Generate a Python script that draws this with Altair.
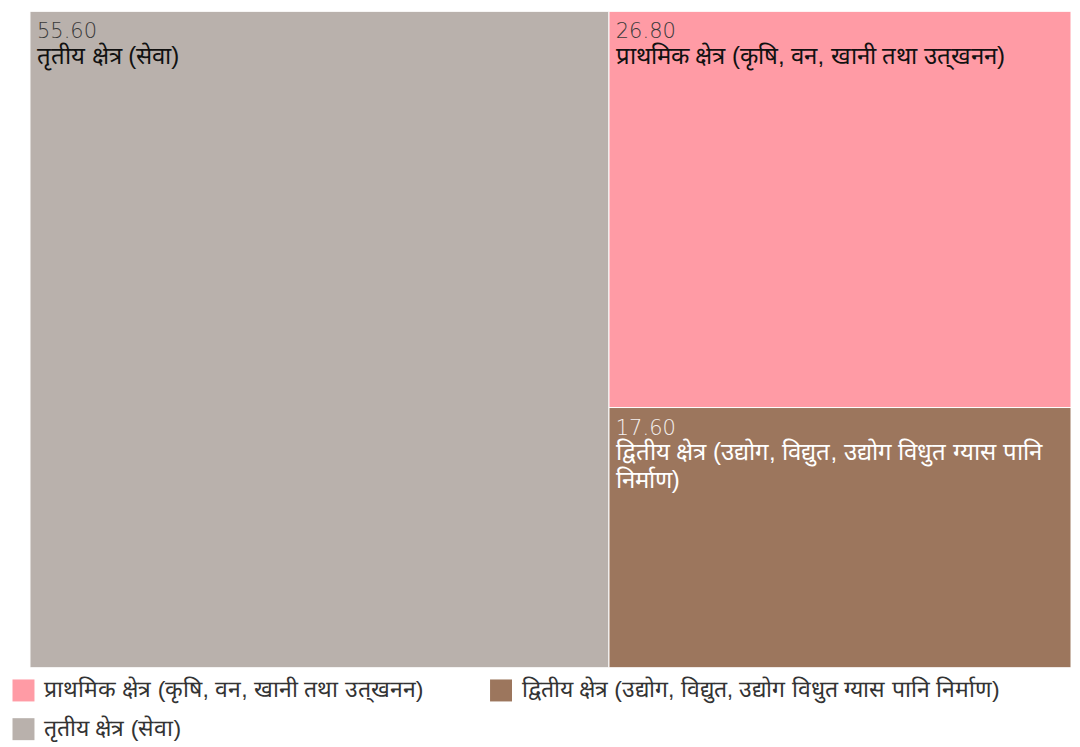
import textwrap
import altair as alt
import pandas as pd

# ---- data ----
categories = [
    "प्राथमिक क्षेत्र (कृषि, वन, खानी तथा उत्‌खनन)",
    "द्वितीय क्षेत्र (उद्योग, विद्युत, उद्योग विधुत ग्यास पानि निर्माण)",
    "तृतीय क्षेत्र (सेवा)",
]
values = [26.8, 17.6, 55.6]
colors = ["#ff9ba5", "#9c765d", "#b9b1ac"]

# ---- simple slice treemap layout (largest item takes a full-height column) ----
df = pd.DataFrame({"category": categories, "value": values})
total = df["value"].sum()
order = df.sort_values("value", ascending=False).index.tolist()
first = order[0]
rest = order[1:]
rows = []
w0 = df.loc[first, "value"] / total * 100
rows.append((first, 0.0, w0, 0.0, 100.0))
rest_total = df.loc[rest, "value"].sum()
y = 0.0
for i in rest:
    h = df.loc[i, "value"] / rest_total * 100
    rows.append((i, w0, 100.0, y, y + h))
    y += h
for i, x0, x1, y0, y1 in rows:
    df.loc[i, "x0"] = x0
    df.loc[i, "x1"] = x1
    df.loc[i, "y0"] = y0
    df.loc[i, "y1"] = y1
df["vlabel"] = df["value"].map(lambda v: f"{v:.2f}")
df["tlabel"] = df["category"].map(lambda s: textwrap.fill(s, width=60))

W, H = 1042, 657
xs = alt.Scale(domain=[0, 100], range=[0, W], nice=False, zero=False)
ys = alt.Scale(domain=[0, 100], range=[0, H], nice=False, zero=False)

color = alt.Color(
    "category:N",
    scale=alt.Scale(domain=categories, range=colors),
    sort=categories,
    legend=alt.Legend(
        title=None,
        orient="none",
        legendX=-18,
        legendY=668,
        direction="horizontal",
        columns=2,
        symbolType="square",
        symbolSize=484,
        symbolStrokeWidth=0,
        labelFontSize=23,
        labelColor="#333333",
        labelLimit=800,
        labelOffset=9,
        rowPadding=15,
        columnPadding=66,
    ),
)

base = alt.Chart(df)

rects = base.mark_rect(stroke="white", strokeWidth=1).encode(
    x=alt.X("x0:Q", scale=xs, axis=None),
    x2="x1:Q",
    y=alt.Y("y0:Q", scale=ys, axis=None),
    y2="y1:Q",
    color=color,
)

is_dark = "datum.category == '" + categories[1] + "'"

vtext = base.mark_text(
    align="left", baseline="top", dx=7, dy=10, fontSize=21, font="DejaVu Sans", fontWeight=300
).encode(
    x=alt.X("x0:Q", scale=xs),
    y=alt.Y("y0:Q", scale=ys),
    text="vlabel:N",
    color=alt.condition(is_dark, alt.value("#f4f0ee"), alt.value("#3a3a3a")),
)

ttext = base.mark_text(
    align="left", baseline="top", dx=7, dy=34, fontSize=24, lineBreak="\n", lineHeight=28
).encode(
    x=alt.X("x0:Q", scale=xs),
    y=alt.Y("y0:Q", scale=ys),
    text="tlabel:N",
    color=alt.condition(is_dark, alt.value("#ffffff"), alt.value("#111111")),
)

chart = (
    alt.layer(rects, vtext, ttext)
    .properties(
        width=W,
        height=H,
        padding={"left": 4, "top": 2, "right": 0, "bottom": 0},
    )
    .configure_view(stroke=None)
)

chart.save("out.html", embed_options={"renderer": "svg", "actions": False})
